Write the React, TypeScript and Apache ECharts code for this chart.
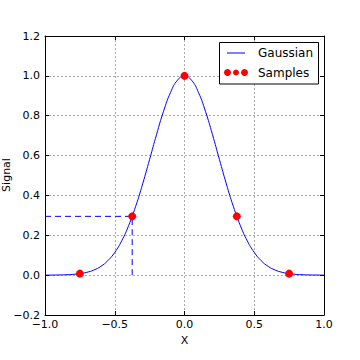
import React, { useEffect, useRef } from "react";
import * as echarts from "echarts";

const curveX = [-1.0, -0.95, -0.9, -0.85, -0.8, -0.75, -0.7, -0.65, -0.6, -0.55, -0.5, -0.45, -0.4, -0.35, -0.3, -0.25, -0.2, -0.15, -0.1, -0.05, 0.0, 0.05, 0.1, 0.15, 0.2, 0.25, 0.3, 0.35, 0.4, 0.45, 0.5, 0.55, 0.6, 0.65, 0.7, 0.75, 0.8, 0.85, 0.9, 0.95, 1.0];
const curveY = [0.0002, 0.0004, 0.0009, 0.0019, 0.0039, 0.0076, 0.0142, 0.0255, 0.0439, 0.0724, 0.1142, 0.1724, 0.2494, 0.3453, 0.4578, 0.5813, 0.7067, 0.8226, 0.917, 0.9785, 1.0, 0.9785, 0.917, 0.8226, 0.7067, 0.5813, 0.4578, 0.3453, 0.2494, 0.1724, 0.1142, 0.0724, 0.0439, 0.0255, 0.0142, 0.0076, 0.0039, 0.0019, 0.0009, 0.0004, 0.0002];
const sampleX = [-0.75, -0.375, 0.0, 0.375, 0.75];
const sampleY = [0.0076, 0.295, 1.0, 0.295, 0.0076];
const guideX = [-1.0, -0.375, -0.375];
const guideY = [0.295, 0.295, 0.0];

const FONT = "DejaVu Sans";
const fmt = (v: number) => v.toFixed(1).replace("-", "\u2212");

export default function App() {
  const ref = useRef<HTMLDivElement>(null);
  useEffect(() => {
    const chart = echarts.init(ref.current!, null, { renderer: "svg" });
    const axisCommon = {
      axisLine: { show: true, onZero: false, lineStyle: { color: "#000", width: 1 } },
      axisTick: { show: true, inside: true, length: 4, lineStyle: { color: "#000" } },
    };
    chart.setOption({
      animation: false,
      backgroundColor: "#fff",
      grid: { left: 45, right: 36, top: 36, bottom: 45, containLabel: false, outerBoundsMode: "none" },
      xAxis: [
        {
          type: "value", min: -1, max: 1, interval: 0.5,
          name: "X", nameLocation: "middle", nameGap: 17,
          nameTextStyle: { fontFamily: FONT, fontSize: 11, color: "#000" },
          ...axisCommon,
          axisLabel: { formatter: fmt, fontFamily: FONT, fontSize: 11, color: "#000", margin: 4 },
          splitLine: { show: true, lineStyle: { color: "#aaa", type: [2, 2] } },
        },
        {
          type: "value", min: -1, max: 1, interval: 0.5, position: "top",
          ...axisCommon, axisLabel: { show: false }, splitLine: { show: false },
        },
      ],
      yAxis: [
        {
          type: "value", min: -0.2, max: 1.2, interval: 0.2,
          ...axisCommon,
          axisLabel: { formatter: fmt, fontFamily: FONT, fontSize: 11, color: "#000", margin: 5 },
          splitLine: { show: true, lineStyle: { color: "#aaa", type: [2, 2] } },
        },
        {
          type: "value", min: -0.2, max: 1.2, interval: 0.2, position: "right",
          ...axisCommon, axisLabel: { show: false }, splitLine: { show: false },
        },
      ],
      series: [
        {
          type: "line", name: "Gaussian",
          data: curveX.map((x, i) => [x, curveY[i]]),
          smooth: true, showSymbol: false,
          lineStyle: { color: "#0000ff", width: 1 },
          z: 3,
        },
        {
          type: "line", name: "guide",
          data: guideX.map((x, i) => [x, guideY[i]]),
          showSymbol: false,
          lineStyle: { color: "#0000ff", width: 1, type: [6, 4] },
          z: 2,
        },
        {
          type: "scatter", name: "Samples",
          data: sampleX.map((x, i) => [x, sampleY[i]]),
          symbolSize: 8,
          itemStyle: { color: "#ff0000", opacity: 1 },
          z: 4,
        },
      ],
      graphic: [
        { type: "text", x: 6, y: 175, rotation: Math.PI / 2, style: { text: "Signal", font: `11px ${FONT}`, fill: "#000", align: "center", verticalAlign: "middle" }, z: 11 },
        { type: "rect", shape: { x: 219.5, y: 42.5, width: 99, height: 41.5 }, style: { fill: "#fff", stroke: "#000", lineWidth: 1 }, z: 10 },
        { type: "line", shape: { x1: 227, y1: 53, x2: 245, y2: 53 }, style: { stroke: "#0000ff", lineWidth: 1 }, z: 11 },
        { type: "circle", shape: { cx: 227.5, cy: 72.5, r: 3.5 }, style: { fill: "#ff0000" }, z: 11 },
        { type: "circle", shape: { cx: 236, cy: 72.5, r: 3 }, style: { fill: "#ff0000" }, z: 11 },
        { type: "circle", shape: { cx: 244.5, cy: 72.5, r: 3.5 }, style: { fill: "#ff0000" }, z: 11 },
        { type: "text", x: 258, y: 53, style: { text: "Gaussian", font: `12px ${FONT}`, fill: "#000", verticalAlign: "middle" }, z: 11 },
        { type: "text", x: 258, y: 72.5, style: { text: "Samples", font: `12px ${FONT}`, fill: "#000", verticalAlign: "middle" }, z: 11 },
      ],
    });
    return () => chart.dispose();
  }, []);
  return <div ref={ref} style={{ width: 360, height: 360, position: "absolute", left: 0, top: 0 }} />;
}
